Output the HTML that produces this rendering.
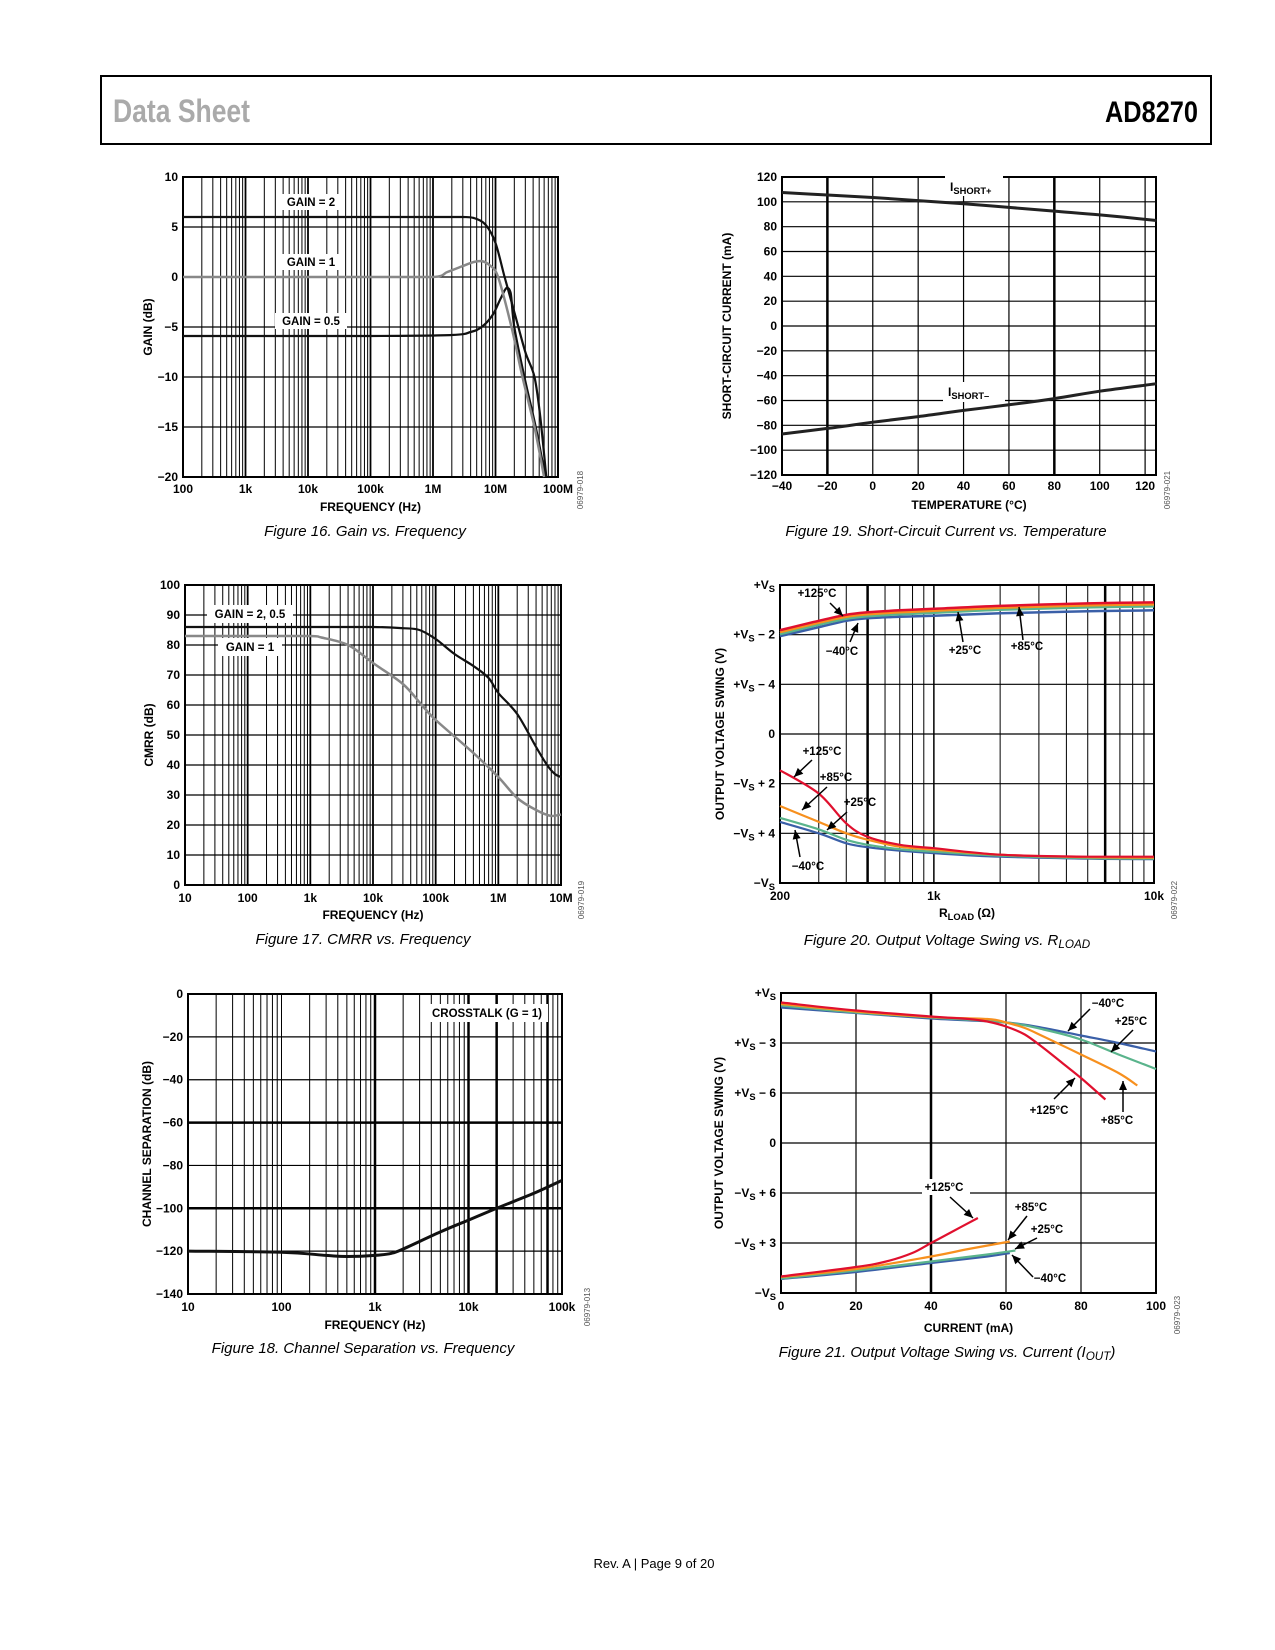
<!DOCTYPE html>
<html><head><meta charset="utf-8"><title>AD8270 Data Sheet p9</title>
<style>
html,body{margin:0;padding:0;background:#fff;}
svg{display:block;font-family:"Liberation Sans",Arial,sans-serif;}
</style></head>
<body>
<svg id="page" xmlns="http://www.w3.org/2000/svg" width="1275" height="1650" viewBox="0 0 1275 1650">
<rect x="0" y="0" width="1275" height="1650" fill="#fff"/>
<g>
<line x1="100" y1="76" x2="1212" y2="76" stroke="#000" stroke-width="2"/>
<line x1="100" y1="144" x2="1212" y2="144" stroke="#000" stroke-width="2"/>
<line x1="101" y1="75" x2="101" y2="145" stroke="#000" stroke-width="2"/>
<line x1="1211" y1="75" x2="1211" y2="145" stroke="#000" stroke-width="2"/>
<text x="113" y="122" font-family="'Liberation Sans Narrow','Liberation Sans',sans-serif" font-weight="bold" font-size="32" fill="#aaa" textLength="137" lengthAdjust="spacingAndGlyphs">Data Sheet</text>
<text x="1105" y="122" font-family="'Liberation Sans Narrow','Liberation Sans',sans-serif" font-weight="bold" font-size="30" fill="#000" textLength="93" lengthAdjust="spacingAndGlyphs">AD8270</text>
</g>
<text x="654" y="1568" font-size="13" text-anchor="middle" fill="#000">Rev. A | Page 9 of 20</text>
</svg>
<script>
// ---------- DATA ----------
// Figure 16
const f16Freq2 = [100, 1e5, 1e6, 3e6, 4.5e6, 7e6, 1e7, 1.4e7, 2e7, 3e7, 4.2e7, 5.2e7, 6.5e7];
const f16Gain2 = [6, 6, 6, 6, 5.9, 5.2, 3.4, 0, -3.5, -7.5, -10, -14, -20];
const f16Freq1 = [100, 1e5, 1e6, 1.7e6, 3e6, 4.5e6, 5.9e6, 8e6, 1.1e7, 1.8e7, 2.7e7, 4.2e7, 6e7];
const f16Gain1 = [0, 0, 0, 0.5, 1.1, 1.5, 1.6, 1.2, 0, -5, -10, -15, -20];
const f16Freq05 = [100, 1e5, 2e6, 4e6, 6e6, 9e6, 1.2e7, 1.5e7, 1.75e7, 2e7, 2.9e7, 4.4e7, 6.3e7];
const f16Gain05 = [-5.9, -5.9, -5.8, -5.5, -5.0, -3.8, -2.2, -1.1, -1.6, -5, -10, -15, -20];
const f16XTicks = [1e2, 1e3, 1e4, 1e5, 1e6, 1e7, 1e8];
const f16XLabels = ["100", "1k", "10k", "100k", "1M", "10M", "100M"];
const f16YTicks = [10, 5, 0, -5, -10, -15, -20];
const f16YLabels = ["10", "5", "0", "−5", "−10", "−15", "−20"];
// Figure 19
const f19Temp = [-40, -20, 0, 20, 40, 60, 80, 100, 125];
const f19Pos = [107.5, 105.5, 103.5, 101, 98.5, 95.5, 92.5, 89.5, 85];
const f19Neg = [-87, -82.5, -77.5, -73, -68, -63.5, -58.5, -52.5, -46.5];
const f19XTicks = [-40, -20, 0, 20, 40, 60, 80, 100, 120];
const f19XLabels = ["−40", "−20", "0", "20", "40", "60", "80", "100", "120"];
const f19YTicks = [120, 100, 80, 60, 40, 20, 0, -20, -40, -60, -80, -100, -120];
const f19YLabels = ["120", "100", "80", "60", "40", "20", "0", "−20", "−40", "−60", "−80", "−100", "−120"];
// Figure 17
const f17FreqA = [10, 1e3, 1e4, 3e4, 5.5e4, 1e5, 2e5, 4e5, 7e5, 1e6, 2e6, 4e6, 6e6, 8e6, 1e7];
const f17CmrrA = [86, 86, 86, 85.6, 85, 82, 77, 73, 69, 64, 57, 46, 40, 37, 36];
const f17FreqB = [10, 1e3, 1.5e3, 4e3, 1e4, 3e4, 6e4, 1e5, 4e5, 1e6, 2e6, 4e6, 7e6, 1e7];
const f17CmrrB = [83, 83, 82.5, 80, 74, 67, 60, 55, 44, 36, 29, 25, 23, 23.5];
const f17XTicks = [10, 100, 1e3, 1e4, 1e5, 1e6, 1e7];
const f17XLabels = ["10", "100", "1k", "10k", "100k", "1M", "10M"];
const f17YTicks = [100, 90, 80, 70, 60, 50, 40, 30, 20, 10, 0];
const f17YLabels = ["100", "90", "80", "70", "60", "50", "40", "30", "20", "10", "0"];
// Figure 20 (y in grid divisions from -VS)
const f20R = [200, 300, 400, 500, 700, 1000, 2000, 5000, 10000];
const f20Up125 = [5.09, 5.28, 5.40, 5.45, 5.49, 5.52, 5.58, 5.63, 5.65];
const f20Up85 = [5.05, 5.24, 5.36, 5.41, 5.45, 5.48, 5.54, 5.59, 5.61];
const f20Up25 = [5.01, 5.20, 5.32, 5.37, 5.41, 5.44, 5.50, 5.55, 5.57];
const f20UpM40 = [4.97, 5.15, 5.28, 5.33, 5.36, 5.38, 5.43, 5.47, 5.49];
const f20Lo125 = [2.27, 1.80, 1.20, 0.93, 0.77, 0.70, 0.57, 0.53, 0.53];
const f20Lo85 = [1.55, 1.23, 1.00, 0.87, 0.73, 0.67, 0.57, 0.52, 0.51];
const f20Lo25 = [1.31, 1.08, 0.87, 0.77, 0.68, 0.63, 0.55, 0.50, 0.49];
const f20LoM40 = [1.23, 1.00, 0.80, 0.72, 0.65, 0.60, 0.53, 0.49, 0.48];
const f20XTicks = [200, 1000, 10000];
const f20XLabels = ["200", "1k", "10k"];
const f20YTicks = [6, 5, 4, 3, 2, 1, 0];
const f20YLabels = ["+V{S}", "+V{S} − 2", "+V{S} − 4", "0", "−V{S} + 2", "−V{S} + 4", "−V{S}"];
// Figure 18
const f18Freq = [10, 100, 300, 500, 1000, 1500, 2000, 5000, 10000, 20000, 50000, 100000];
const f18Sep = [-120, -120.5, -122, -122.5, -122, -121, -119, -111, -105.5, -100, -93, -87];
const f18XTicks = [10, 100, 1e3, 1e4, 1e5];
const f18XLabels = ["10", "100", "1k", "10k", "100k"];
const f18YTicks = [0, -20, -40, -60, -80, -100, -120, -140];
const f18YLabels = ["0", "−20", "−40", "−60", "−80", "−100", "−120", "−140"];
// Figure 21 (y in grid divisions from -VS)
const f21I125 = [0, 20, 40, 50, 55, 60, 65, 70, 75, 80, 86.5];
const f21Up125 = [5.81, 5.65, 5.53, 5.48, 5.43, 5.33, 5.17, 4.90, 4.60, 4.30, 3.87];
const f21I85 = [0, 20, 40, 55, 60, 65, 70, 80, 90, 95];
const f21Up85 = [5.78, 5.63, 5.52, 5.48, 5.41, 5.30, 5.13, 4.77, 4.40, 4.15];
const f21I25 = [0, 20, 40, 60, 70, 80, 90, 100];
const f21Up25 = [5.75, 5.61, 5.51, 5.41, 5.27, 5.07, 4.77, 4.48];
const f21UpM40 = [5.71, 5.60, 5.49, 5.41, 5.30, 5.15, 5.00, 4.83];
const f21ILo125 = [0, 20, 28, 35, 40, 45, 52.5];
const f21Lo125 = [0.33, 0.52, 0.63, 0.80, 1.00, 1.20, 1.50];
const f21ILo85 = [0, 20, 40, 50, 61];
const f21Lo85 = [0.32, 0.48, 0.73, 0.88, 1.03];
const f21ILo25 = [0, 20, 40, 55, 62.5];
const f21Lo25 = [0.29, 0.45, 0.63, 0.77, 0.85];
const f21ILoM40 = [0, 20, 40, 55, 61];
const f21LoM40 = [0.28, 0.42, 0.60, 0.73, 0.80];
const f21XTicks = [0, 20, 40, 60, 80, 100];
const f21XLabels = ["0", "20", "40", "60", "80", "100"];
const f21YTicks = [6, 5, 4, 3, 2, 1, 0];
const f21YLabels = ["+V{S}", "+V{S} − 3", "+V{S} − 6", "0", "−V{S} + 6", "−V{S} + 3", "−V{S}"];

// ---------- HELPERS ----------
const NS = "http://www.w3.org/2000/svg";
const svg = document.getElementById('page');
function mk(tag, attrs, parent) {
  const e = document.createElementNS(NS, tag);
  for (const k in attrs) e.setAttribute(k, attrs[k]);
  (parent || svg).appendChild(e);
  return e;
}
function logS(min, max, a, b) { const l0 = Math.log10(min), l1 = Math.log10(max); return v => a + (Math.log10(v) - l0) / (l1 - l0) * (b - a); }
function linS(min, max, a, b) { return v => a + (v - min) / (max - min) * (b - a); }
function clamp(v, a, b) { const lo = Math.min(a, b), hi = Math.max(a, b); return Math.max(lo, Math.min(hi, v)); }
function smoothPath(pts) {
  let d = "M" + pts[0][0].toFixed(1) + "," + pts[0][1].toFixed(1);
  for (let i = 0; i < pts.length - 1; i++) {
    const p0 = pts[i - 1] || pts[i], p1 = pts[i], p2 = pts[i + 1], p3 = pts[i + 2] || p2;
    const c1 = [p1[0] + (p2[0] - p0[0]) / 6, clamp(p1[1] + (p2[1] - p0[1]) / 6, p1[1], p2[1])];
    const c2 = [p2[0] - (p3[0] - p1[0]) / 6, clamp(p2[1] - (p3[1] - p1[1]) / 6, p1[1], p2[1])];
    c1[0] = clamp(c1[0], p1[0], p2[0]); c2[0] = clamp(c2[0], p1[0], p2[0]);
    d += " C" + c1.map(n => n.toFixed(1)).join(",") + " " + c2.map(n => n.toFixed(1)).join(",") + " " + p2.map(n => n.toFixed(1)).join(",");
  }
  return d;
}
function addText(g, x, y, str, size, anchor, weight, style) {
  const t = mk('text', { x: x, y: y, 'font-size': size, 'text-anchor': anchor || 'start', 'font-weight': weight || 'bold', fill: '#000' }, g);
  if (style) t.setAttribute('font-style', style);
  const parts = str.split(/\{([^}]*)\}/);
  parts.forEach((p, i) => {
    if (!p) return;
    if (i % 2 === 0) {
      const s = mk('tspan', {}, t);
      s.textContent = p;
    } else {
      const s = mk('tspan', { 'font-size': size * 0.78, dy: 3 }, t);
      s.textContent = p;
      const r = mk('tspan', { dy: -3 }, t);
      r.textContent = "\u200B";
    }
  });
  return t;
}
function series(g, xs, ys, sx, sy, color, width, name) {
  const pts = xs.map((x, i) => [sx(x), sy(ys[i])]);
  const p = mk('path', { d: smoothPath(pts), fill: 'none', stroke: color, 'stroke-width': width, 'stroke-linejoin': 'round' }, g);
  
  
  return p;
}
function labelBox(g, x, y, str, w, h, name) {
  const r = mk('rect', { x: x - w / 2, y: y - h / 2, width: w, height: h, fill: '#fff' }, g);
  
  
  const t = addText(g, x, y + 4, str, 11.5, 'middle');
  
  
}
function arrow(g, x1, y1, x2, y2, name) {
  const l = mk('line', { x1: x1, y1: y1, x2: x2, y2: y2, stroke: '#000', 'stroke-width': 1.5 }, g);
  
  
  const a = Math.atan2(y2 - y1, x2 - x1), L = 9, W = 4;
  const bx = x2 - L * Math.cos(a), by = y2 - L * Math.sin(a);
  const pts = [[x2, y2], [bx + W * Math.sin(a), by - W * Math.cos(a)], [bx - W * Math.sin(a), by + W * Math.cos(a)]];
  const h = mk('polygon', { points: pts.map(p => p.join(",")).join(" "), fill: '#000' }, g);
  
  
}
function frame(g, L, R, T, B, vlines, hlines, sx, sy, xT, xL, yT, yL, xTitle, yTitle, caption, capW, code, tickDy, titleDy) {
  vlines.forEach(v => {
    const x = sx(v.v);
    const l = mk('line', { x1: x, y1: T, x2: x, y2: B, stroke: '#000', 'stroke-width': v.w }, g);
    
    
  });
  hlines.forEach(v => {
    const y = sy(v.v);
    const l = mk('line', { x1: L, y1: y, x2: R, y2: y, stroke: '#000', 'stroke-width': v.w }, g);
    
    
  });
  const fr = mk('rect', { x: L, y: T, width: R - L, height: B - T, fill: 'none', stroke: '#000', 'stroke-width': 2 }, g);
  
  
  xT.forEach((v, i) => {
    const t = addText(g, sx(v), B + tickDy, xL[i], 12, 'middle');
    
    
  });
  yT.forEach((v, i) => {
    const t = addText(g, L - 5, sy(v) + 4, yL[i], 12, 'end');
    
    
  });
  const xt = addText(g, (L + R) / 2, B + titleDy, xTitle, 12, 'middle');
  
  
  const yt = addText(g, yTitle.x, (T + B) / 2, yTitle.s, 12, 'middle');
  yt.setAttribute('transform', 'rotate(-90,' + yTitle.x + ',' + ((T + B) / 2) + ')');
  
  
  const c = addText(g, caption.x, caption.y, caption.s, 15, 'middle', 'normal', 'italic');
  
  
  const cd = mk('text', { x: code.x, y: code.y, 'font-size': 8, fill: '#555', 'text-anchor': 'middle', transform: 'rotate(-90,' + code.x + ',' + code.y + ')' }, g);
  cd.textContent = code.s;
  
  
}
function logGrid(min, max) {
  const out = [];
  for (let d = Math.floor(Math.log10(min)); d <= Math.ceil(Math.log10(max)); d++) {
    for (let m = 1; m <= 9; m++) {
      const v = m * Math.pow(10, d);
      if (v > min * 1.0001 && v < max * 0.9999) out.push({ v: v, w: m === 1 ? 1.8 : 1 });
    }
  }
  return out;
}
function grp(name) {
  const g = mk('g', {});
  
  
  return g;
}

// ---------- FIGURE 16 ----------
(function () {
  const g = grp('figure-16-gain-vs-frequency');
  const L = 183, R = 558, T = 177, B = 477;
  const sx = logS(1e2, 1e8, L, R), sy = linS(10, -20, T, B);
  frame(g, L, R, T, B, logGrid(1e2, 1e8), f16YTicks.slice(1, -1).map(v => ({ v: v, w: 1.2 })), sx, sy,
    f16XTicks, f16XLabels, f16YTicks, f16YLabels, "FREQUENCY (Hz)", { x: 152, s: "GAIN (dB)" },
    { x: 365, y: 536, s: "Figure 16. Gain vs. Frequency" }, 190, { x: 583, y: 490, s: "06979-018" }, 16, 34);
  series(g, f16Freq05, f16Gain05, sx, sy, '#111', 2.2, 'series-gain-0p5');
  series(g, f16Freq1, f16Gain1, sx, sy, '#888', 2.5, 'series-gain-1');
  series(g, f16Freq2, f16Gain2, sx, sy, '#111', 2.2, 'series-gain-2');
  labelBox(g, 311, 202, "GAIN = 2", 60, 16, 'label-gain-2');
  labelBox(g, 311, 262, "GAIN = 1", 60, 16, 'label-gain-1');
  labelBox(g, 311, 321, "GAIN = 0.5", 72, 16, 'label-gain-0p5');
})();

// ---------- FIGURE 19 ----------
(function () {
  const g = grp('figure-19-short-circuit-current');
  const L = 782, R = 1156, T = 177, B = 475;
  const sx = linS(-40, 124.8, L, R), sy = linS(120, -120, T, B);
  const vl = f19XTicks.slice(1).map(v => ({ v: v, w: (v === -20 || v === 80) ? 2.5 : 1.2 }));
  frame(g, L, R, T, B, vl, f19YTicks.slice(1, -1).map(v => ({ v: v, w: 1.2 })), sx, sy,
    f19XTicks, f19XLabels, f19YTicks, f19YLabels, "TEMPERATURE (°C)", { x: 731, s: "SHORT-CIRCUIT CURRENT (mA)" },
    { x: 946, y: 536, s: "Figure 19. Short-Circuit Current vs. Temperature" }, 313, { x: 1170, y: 490, s: "06979-021" }, 15, 34);
  series(g, f19Temp, f19Pos, sx, sy, '#222', 3, 'series-ishort-plus');
  const r1 = mk('rect', { x: 945, y: 176, width: 58, height: 20, fill: '#fff' }, g);
  
  
  const r2 = mk('rect', { x: 943, y: 382, width: 62, height: 20, fill: '#fff' }, g);
  
  
  series(g, f19Temp, f19Neg, sx, sy, '#222', 3, 'series-ishort-minus');
  const t1 = addText(g, 950, 191, "I{SHORT+}", 12, 'start');
  
  
  const t2 = addText(g, 948, 396, "I{SHORT–}", 12, 'start');
  
  
})();

// ---------- FIGURE 17 ----------
(function () {
  const g = grp('figure-17-cmrr-vs-frequency');
  const L = 185, R = 561, T = 585, B = 885;
  const sx = logS(10, 1e7, L, R), sy = linS(100, 0, T, B);
  frame(g, L, R, T, B, logGrid(10, 1e7), f17YTicks.slice(1, -1).map(v => ({ v: v, w: 1.2 })), sx, sy,
    f17XTicks, f17XLabels, f17YTicks, f17YLabels, "FREQUENCY (Hz)", { x: 153, s: "CMRR (dB)" },
    { x: 363, y: 944, s: "Figure 17. CMRR vs. Frequency" }, 200, { x: 584, y: 900, s: "06979-019" }, 17, 34);
  series(g, f17FreqB, f17CmrrB, sx, sy, '#888', 2.5, 'series-gain-1');
  series(g, f17FreqA, f17CmrrA, sx, sy, '#111', 2.2, 'series-gain-2-0p5');
  labelBox(g, 250, 614, "GAIN = 2, 0.5", 86, 18, 'label-gain-2-0p5');
  labelBox(g, 250, 647, "GAIN = 1", 64, 18, 'label-gain-1');
})();

// ---------- FIGURE 20 ----------
(function () {
  const g = grp('figure-20-output-swing-vs-rload');
  const L = 780, R = 1154, T = 585, B = 883;
  const sx = logS(200, 10000, L, R), sy = linS(6, 0, T, B);
  const vl = logGrid(200, 10000).map(o => ({ v: o.v, w: (o.v === 500 || o.v === 6000) ? 2.5 : (o.v === 1000 ? 1.5 : 1) }));
  frame(g, L, R, T, B, vl, [5, 4, 3, 2, 1].map(v => ({ v: v, w: 1.2 })), sx, sy,
    f20XTicks, f20XLabels, f20YTicks, f20YLabels, "R{LOAD} (Ω)", { x: 724, s: "OUTPUT VOLTAGE SWING (V)" },
    { x: 947, y: 945, s: "Figure 20. Output Voltage Swing vs. R{LOAD}" }, 270, { x: 1177, y: 900, s: "06979-022" }, 17, 34);
  series(g, f20R, f20UpM40, sx, sy, '#3a5fa8', 2.5, 'series-upper-minus40c');
  series(g, f20R, f20Up25, sx, sy, '#5ab48c', 2.5, 'series-upper-25c');
  series(g, f20R, f20Up85, sx, sy, '#f7901e', 2.5, 'series-upper-85c');
  series(g, f20R, f20Up125, sx, sy, '#e0102e', 2.5, 'series-upper-125c');
  series(g, f20R, f20LoM40, sx, sy, '#3a5fa8', 2.2, 'series-lower-minus40c');
  series(g, f20R, f20Lo25, sx, sy, '#5ab48c', 2.2, 'series-lower-25c');
  series(g, f20R, f20Lo85, sx, sy, '#f7901e', 2.2, 'series-lower-85c');
  series(g, f20R, f20Lo125, sx, sy, '#e0102e', 2.2, 'series-lower-125c');
  const ann = [
    [817, 597, "+125°C", 830, 603, 843, 616], [842, 655, "−40°C", 850, 642, 858, 623],
    [965, 654, "+25°C", 963, 642, 958, 612], [1027, 650, "+85°C", 1023, 640, 1019, 607],
    [822, 755, "+125°C", 812, 760, 794, 777], [836, 781, "+85°C", 827, 787, 802, 810],
    [860, 806, "+25°C", 847, 812, 827, 830], [808, 870, "−40°C", 800, 857, 795, 830]];
  ann.forEach(a => {
    const t = addText(g, a[0], a[1], a[2], 11.5, 'middle');
    
    
    arrow(g, a[3], a[4], a[5], a[6], 'temperature-arrow');
  });
})();

// ---------- FIGURE 18 ----------
(function () {
  const g = grp('figure-18-channel-separation');
  const L = 188, R = 562, T = 994, B = 1294;
  const sx = logS(10, 1e5, L, R), sy = linS(0, -140, T, B);
  const vl = logGrid(10, 1e5).map(o => ({ v: o.v, w: (o.v === 1000 || o.v === 10000 || o.v === 20000 || o.v === 70000) ? 2.5 : 1 }));
  frame(g, L, R, T, B, vl, f18YTicks.slice(1, -1).map(v => ({ v: v, w: (v === -60 || v === -100) ? 2.5 : 1.2 })), sx, sy,
    f18XTicks, f18XLabels, f18YTicks, f18YLabels, "FREQUENCY (Hz)", { x: 151, s: "CHANNEL SEPARATION (dB)" },
    { x: 363, y: 1353, s: "Figure 18. Channel Separation vs. Frequency" }, 290, { x: 590, y: 1307, s: "06979-013" }, 17, 35);
  series(g, f18Freq, f18Sep, sx, sy, '#111', 3, 'series-crosstalk');
  labelBox(g, 487, 1013, "CROSSTALK (G = 1)", 122, 18, 'label-crosstalk');
})();

// ---------- FIGURE 21 ----------
(function () {
  const g = grp('figure-21-output-swing-vs-current');
  const L = 781, R = 1156, T = 993, B = 1293;
  const sx = linS(0, 100, L, R), sy = linS(6, 0, T, B);
  frame(g, L, R, T, B, [20, 40, 60, 80].map(v => ({ v: v, w: v === 40 ? 2.5 : 1.2 })), [5, 4, 3, 2, 1].map(v => ({ v: v, w: 1.2 })), sx, sy,
    f21XTicks, f21XLabels, f21YTicks, f21YLabels, "CURRENT (mA)", { x: 723, s: "OUTPUT VOLTAGE SWING (V)" },
    { x: 947, y: 1357, s: "Figure 21. Output Voltage Swing vs. Current (I{OUT})" }, 320, { x: 1180, y: 1315, s: "06979-023" }, 17, 39);
  series(g, f21I25, f21UpM40, sx, sy, '#3a5fa8', 2.2, 'series-upper-minus40c');
  series(g, f21I25, f21Up25, sx, sy, '#5ab48c', 2.2, 'series-upper-25c');
  series(g, f21I85, f21Up85, sx, sy, '#f7901e', 2.2, 'series-upper-85c');
  series(g, f21I125, f21Up125, sx, sy, '#e0102e', 2.2, 'series-upper-125c');
  series(g, f21ILoM40, f21LoM40, sx, sy, '#3a5fa8', 2.2, 'series-lower-minus40c');
  series(g, f21ILo25, f21Lo25, sx, sy, '#5ab48c', 2.2, 'series-lower-25c');
  series(g, f21ILo85, f21Lo85, sx, sy, '#f7901e', 2.2, 'series-lower-85c');
  series(g, f21ILo125, f21Lo125, sx, sy, '#e0102e', 2.2, 'series-lower-125c');
  const bg = mk('rect', { x: 922, y: 1179, width: 48, height: 16, fill: '#fff' }, g);
  
  
  const ann = [
    [1108, 1007, "−40°C", 1090, 1009, 1068, 1031], [1131, 1025, "+25°C", 1133, 1030, 1111, 1052],
    [1049, 1114, "+125°C", 1054, 1099, 1075, 1078], [1117, 1124, "+85°C", 1123, 1112, 1123, 1081],
    [944, 1191, "+125°C", 950, 1197, 973, 1218], [1031, 1211, "+85°C", 1027, 1216, 1008, 1240],
    [1047, 1233, "+25°C", 1037, 1238, 1015, 1249], [1050, 1282, "−40°C", 1033, 1277, 1012, 1255]];
  ann.forEach(a => {
    const t = addText(g, a[0], a[1], a[2], 11.5, 'middle');
    
    
    arrow(g, a[3], a[4], a[5], a[6], 'temperature-arrow');
  });
})();
</script>
</body></html>
